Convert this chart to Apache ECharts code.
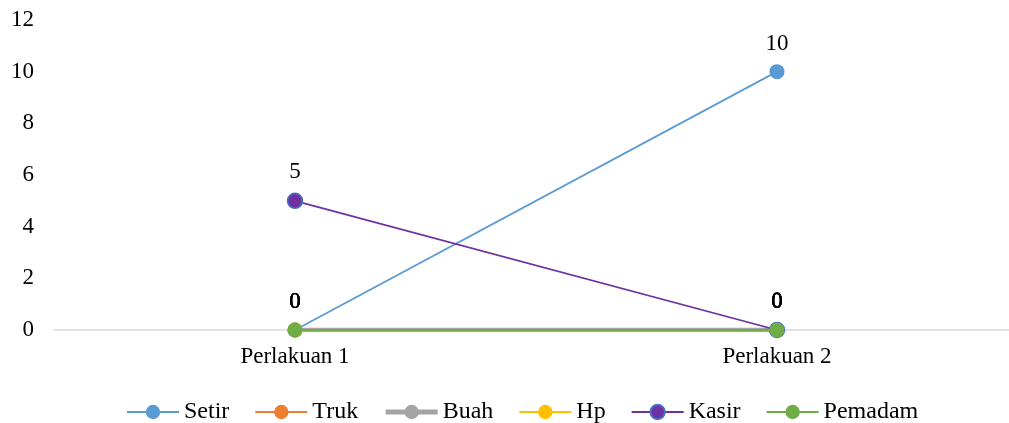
<!DOCTYPE html>
<html>
<head>
<meta charset="utf-8">
<script src="https://cdn.jsdelivr.net/npm/echarts@6/dist/echarts.min.js"></script>
<style>
  html, body { margin: 0; padding: 0; background: #fff; }
  #chart { width: 1009px; height: 423px; }
</style>
</head>
<body>
<div id="chart"></div>
<script>
// Categories and per-series values
const categories = ['Perlakuan 1', 'Perlakuan 2'];
const setir   = [0, 10];
const truk    = [0, 0];
const buah    = [0, 0];
const hp      = [0, 0];
const kasir   = [5, 0];
const pemadam = [0, 0];

const FONT = '"Liberation Serif", "Times New Roman", serif';

function lineSeries(name, data, color, opts) {
  opts = opts || {};
  return {
    name: name,
    type: 'line',
    data: data,
    symbol: 'circle',
    symbolSize: 15,
    z: opts.z || 2,
    lineStyle: { color: color, width: opts.width || 1.8 },
    itemStyle: {
      color: color,
      borderColor: opts.border || color,
      borderWidth: opts.border ? 1.5 : 0
    },
    label: {
      show: true,
      position: 'top',
      distance: 9,
      color: '#000',
      fontFamily: FONT,
      fontSize: 23
    },
    emphasis: { disabled: true }
  };
}

const chart = echarts.init(document.getElementById('chart'), null, { renderer: 'canvas' });
chart.setOption({
  animation: false,
  backgroundColor: '#fff',
  grid: { left: 54, top: 20, width: 964, height: 310, containLabel: false, outerBoundsMode: 'none' },
  legend: {
    top: 395,
    left: 121,
    itemWidth: 52,
    itemHeight: 18,
    itemGap: 25,
    textStyle: { fontFamily: FONT, fontSize: 24, color: '#000' },
    data: [
      { name: 'Setir' },
      { name: 'Truk' },
      { name: 'Buah', lineStyle: { width: 5 } },
      { name: 'Hp' },
      { name: 'Kasir' },
      { name: 'Pemadam' }
    ]
  },
  xAxis: {
    type: 'category',
    data: categories,
    boundaryGap: true,
    axisLine: { show: true, lineStyle: { color: '#d9d9d9', width: 1.5 } },
    axisTick: { show: false },
    axisLabel: { color: '#000', fontFamily: FONT, fontSize: 23, margin: 15 }
  },
  yAxis: {
    type: 'value',
    min: 0,
    max: 12,
    interval: 2,
    splitLine: { show: false },
    axisLine: { show: false },
    axisTick: { show: false },
    axisLabel: { color: '#000', fontFamily: FONT, fontSize: 23, margin: 20 }
  },
  series: [
    lineSeries('Setir', setir, '#5B9BD5', { z: 2 }),
    lineSeries('Truk', truk, '#ED7D31', { z: 3 }),
    lineSeries('Buah', buah, '#A5A5A5', { z: 4, width: 4.5 }),
    lineSeries('Hp', hp, '#FFC000', { z: 5 }),
    lineSeries('Kasir', kasir, '#7030A0', { z: 6, border: '#4472C4' }),
    lineSeries('Pemadam', pemadam, '#70AD47', { z: 7 })
  ]
});
</script>
</body>
</html>
